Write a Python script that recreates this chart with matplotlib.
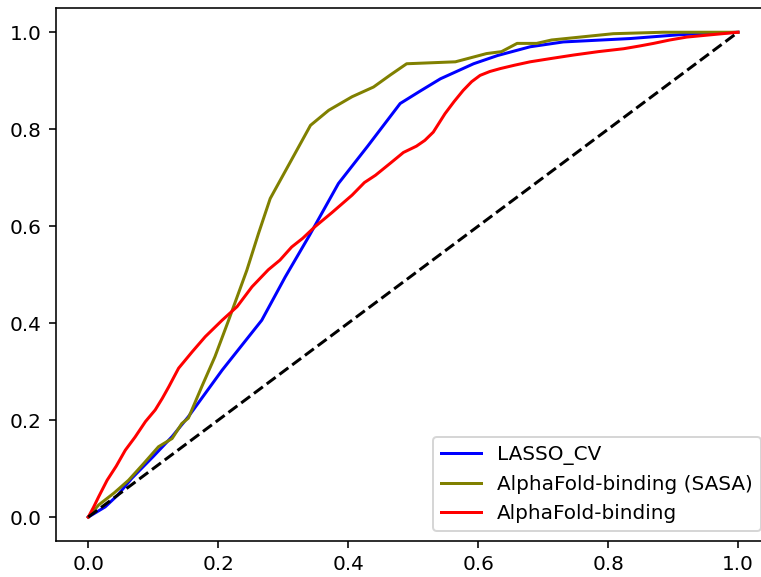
import matplotlib
matplotlib.use("Agg")
import matplotlib.pyplot as plt

labels = ["LASSO_CV", "AlphaFold-binding (SASA)", "AlphaFold-binding"]
colors = ["blue", "olive", "red"]

lasso_fpr = [0, 0.026, 0.045, 0.067, 0.1, 0.129, 0.154, 0.18, 0.206, 0.235, 0.267, 0.303,
             0.34, 0.385, 0.43, 0.48, 0.51, 0.542, 0.593, 0.63, 0.68, 0.731, 0.834, 0.911, 1.0]
lasso_tpr = [0, 0.021, 0.045, 0.08, 0.125, 0.166, 0.207, 0.255, 0.303, 0.352, 0.406, 0.495,
             0.58, 0.688, 0.765, 0.853, 0.878, 0.904, 0.935, 0.952, 0.97, 0.98, 0.987, 0.995, 1.0]

sasa_fpr = [0, 0.016, 0.04, 0.062, 0.085, 0.108, 0.129, 0.144, 0.154, 0.175, 0.195, 0.216,
            0.244, 0.262, 0.28, 0.31, 0.342, 0.37, 0.406, 0.439, 0.465, 0.49, 0.565, 0.613,
            0.636, 0.66, 0.69, 0.713, 0.808, 0.885, 1.0]
sasa_tpr = [0, 0.025, 0.05, 0.076, 0.11, 0.145, 0.162, 0.193, 0.204, 0.27, 0.331, 0.406,
            0.509, 0.585, 0.657, 0.73, 0.808, 0.839, 0.867, 0.887, 0.912, 0.935, 0.939, 0.956,
            0.96, 0.977, 0.977, 0.984, 0.997, 1.0, 1.0]

af_fpr = [0, 0.008, 0.016, 0.029, 0.043, 0.057, 0.072, 0.088, 0.103, 0.114, 0.124, 0.139,
          0.16, 0.18, 0.206, 0.229, 0.252, 0.277, 0.295, 0.313, 0.33, 0.349, 0.375, 0.406,
          0.425, 0.442, 0.465, 0.485, 0.505, 0.518, 0.531, 0.549, 0.563, 0.577, 0.59, 0.603,
          0.618, 0.634, 0.656, 0.68, 0.713, 0.747, 0.785, 0.824, 0.85, 0.87, 0.895, 0.921,
          0.96, 1.0]
af_tpr = [0, 0.02, 0.042, 0.076, 0.105, 0.138, 0.165, 0.197, 0.221, 0.245, 0.269, 0.307,
          0.341, 0.372, 0.406, 0.434, 0.475, 0.51, 0.53, 0.557, 0.575, 0.599, 0.628, 0.664,
          0.69, 0.705, 0.73, 0.752, 0.765, 0.777, 0.794, 0.832, 0.857, 0.88, 0.898, 0.911,
          0.919, 0.925, 0.932, 0.939, 0.946, 0.953, 0.96, 0.966, 0.972, 0.977, 0.984, 0.99,
          0.995, 1.0]

chance = [0, 1]

W, H, DPI = 761, 577, 144
fig = plt.figure(figsize=(W / DPI, H / DPI), dpi=DPI)
left, right, top, bottom = 55.8, 770.5, 8.0, 541.3
ax = fig.add_axes([left / W, (H - bottom) / H, (right - left) / W, (bottom - top) / H])

for fx, ty, lab, c in zip([lasso_fpr, sasa_fpr, af_fpr], [lasso_tpr, sasa_tpr, af_tpr], labels, colors):
    ax.plot(fx, ty, color=c, label=lab)
ax.plot(chance, chance, "k--")
ax.set_xlim(-0.05, 1.05)
ax.set_ylim(-0.05, 1.05)
ax.legend(loc="lower right")
fig.savefig("out.png", dpi=DPI)
